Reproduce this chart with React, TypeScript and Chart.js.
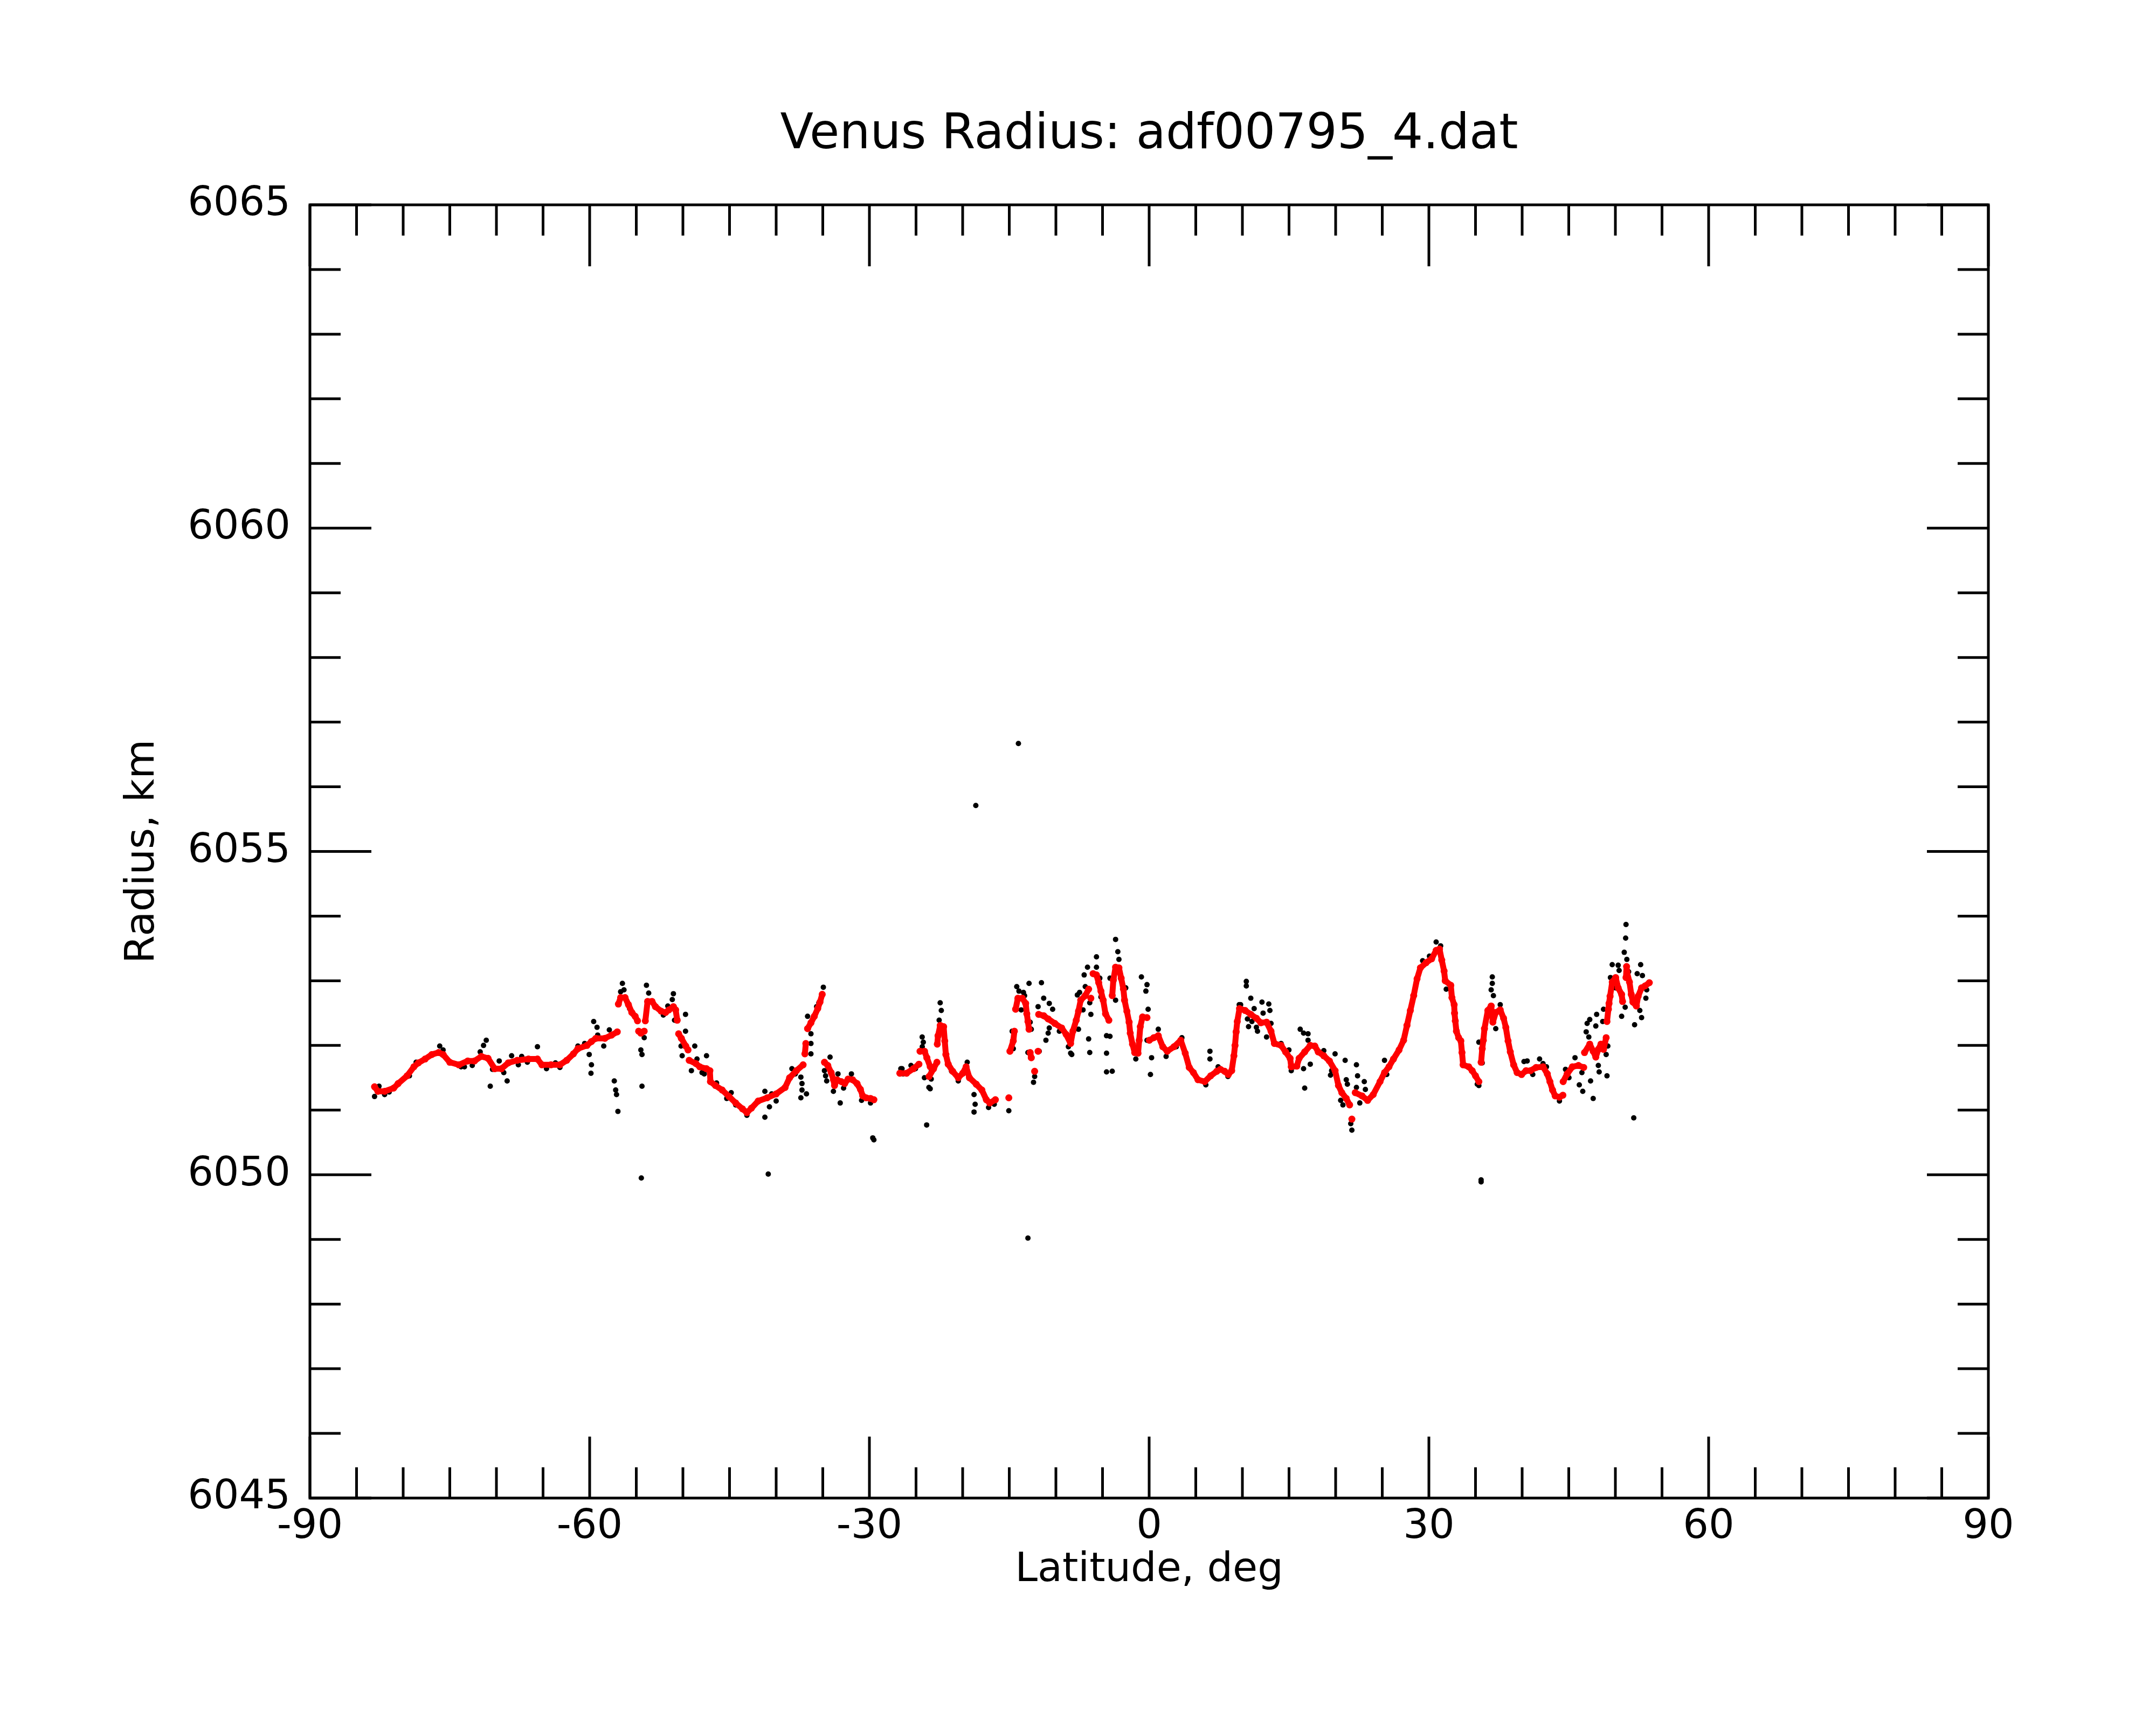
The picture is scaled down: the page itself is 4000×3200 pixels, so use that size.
import { useEffect, useRef } from "react";
import { Chart, registerables } from "chart.js";

Chart.register(...registerables);

// smoothed radius (red); null splits the trace where the reference shows a gap
const redLat = [
  -83.07, -82.71, -81.99, -81.02, -80.54, -79.58, -78.85, -78.37, -77.65, -76.92, -76.2, -75.72, -75.0, -74.03,
  -73.07, -72.35, -71.62, -70.9, -70.18, -69.46, -68.73, -67.77, -66.56, -65.6, -65.12, -64.15, -63.19, -62.46,
  -61.74, -61.26, -60.29, -59.81, -59.33, -58.37, -57.65, -57.04, null,
  -56.92, -56.68, -56.2, -55.84, -55.48, -55.12, -54.87, null,
  -54.75, -54.51, -54.15, null,
  -54.03, -53.79, -53.31, -52.95, -52.34, -51.86, -51.5, -51.02, -50.78, -50.61, null,
  -50.46, -50.17, -49.69, -49.45, null,
  -49.33, -48.61, -48.2, -47.47, -47.11, -47.05, -46.51, -45.79, -45.06, -44.34, -43.62, -43.14, -42.65, -41.93,
  -40.96, -40.0, -39.04, -38.56, -37.83, -37.11, null,
  -36.92, -36.82, null,
  -36.63, -36.27, -35.91, -35.54, -35.3, -35.06, null,
  -34.82, -34.46, -34.1, -33.86, -33.74, -33.49, -33.01, -32.65, -32.29, -31.81, -31.33, -30.96, -30.72, -30.36,
  -29.88, -29.52, null,
  -26.74, -26.01, -25.29, -24.69, null,
  -24.57, -24.09, -23.84, -23.48, null,
  -23.6, -23.12, -22.76, null,
  -22.72, -22.64, -22.4, -22.04, -21.92, -21.8, -21.55, -21.07, -20.47, -19.99, -19.63, -19.27, -18.54, -17.94,
  -17.46, -17.1, -16.49, null,
  -15.05, null,
  -14.93, -14.57, -14.45, null,
  -14.32, -14.08, -13.6, -13.24, -13.12, -13.0, -12.88, null,
  -12.76, -12.64, null,
  -12.28, null,
  -11.91, null,
  -11.85, -11.31, -10.83, -10.11, -9.38, -8.9, -8.42, -8.18, -7.82, -7.58, -7.34, -6.85, -6.49, null,
  -6.25, null,
  -6.01, -5.65, -5.41, -5.17, -4.93, -4.68, -4.32, null,
  -3.96, -3.84, -3.6, -3.24, -3.0, -2.76, -2.64, -2.39, -2.15, -2.03, -1.79, -1.55, -1.19, -1.07, -0.95, -0.71,
  -0.23, null,
  0.02, 0.5, 0.98, 1.46, 1.94, 2.67, 3.39, 3.87, 4.3, 4.75, 5.23, 5.96, 6.6, 7.25, 7.64, 8.1, 8.49, 8.85, 9.09,
  9.21, 9.33, 9.45, 9.69, 10.3, 10.9, 11.5, 11.98, 12.59, 13.07, 13.43, 14.15, 14.63, 15.12, 15.24, 15.84, 16.08,
  16.68, 17.28, 17.77, 18.13, 18.73, 19.33, 19.94, 20.3, 20.66, 21.14, 21.5, null,
  21.74, null,
  22.1, 22.83, 23.43, 24.03, 24.76, 25.24, 25.72, 26.2, 26.8, 27.29, 27.65, 28.01, 28.37, 28.73, 29.09, 29.7,
  30.3, 30.78, 31.14, 31.38, 31.63, 31.75, 32.35, 32.47, 32.71, 32.75, 32.83, 32.95, 33.19, 33.43, 33.55, 33.67,
  34.27, 34.64, 35.0, 35.36, null,
  35.6, 35.72, 35.84, 35.96, 36.32, 36.68, 36.86, 37.17, 37.65, 38.01, 38.25, 38.49, 38.73, 39.09, 39.46, 39.94,
  40.42, 40.9, 41.5, 42.24, 42.7, 42.98, 43.26, 43.54, 44.0, 44.37, null,
  44.4, 44.83, 45.39, 46.04, 46.6, null,
  46.69, 47.25, 47.62, 47.9, 48.17, 48.45, 48.73, 49.01, null,
  49.1, 49.25, 49.32, 49.43, 49.66, 50.03, 50.3, 50.67, 50.77, null,
  51.14, 51.2, 51.23, 51.51, 51.7, 51.88, 52.25, 52.44, 52.81, 53.18, 53.64,
];
const redRadius = [
  6051.36, 6051.29, 6051.29, 6051.34, 6051.41, 6051.53, 6051.67, 6051.73, 6051.79, 6051.86, 6051.89, 6051.86, 6051.74, 6051.7,
  6051.76, 6051.76, 6051.83, 6051.8, 6051.64, 6051.64, 6051.73, 6051.77, 6051.79, 6051.79, 6051.7, 6051.7, 6051.7, 6051.77,
  6051.87, 6051.95, 6052.0, 6052.06, 6052.11, 6052.11, 6052.16, 6052.21, null,
  6052.64, 6052.74, 6052.74, 6052.63, 6052.51, 6052.45, 6052.38, null,
  6052.22, 6052.19, 6052.22, null,
  6052.38, 6052.68, 6052.68, 6052.6, 6052.53, 6052.51, 6052.55, 6052.6, 6052.55, 6052.39, null,
  6052.18, 6052.11, 6051.99, 6051.93, null,
  6051.77, 6051.72, 6051.67, 6051.64, 6051.61, 6051.44, 6051.38, 6051.31, 6051.21, 6051.11, 6051.02, 6050.96, 6051.03, 6051.14,
  6051.19, 6051.25, 6051.35, 6051.5, 6051.61, 6051.7, null,
  6051.87, 6052.03, null,
  6052.26, 6052.35, 6052.45, 6052.57, 6052.67, 6052.79, null,
  6051.74, 6051.69, 6051.58, 6051.47, 6051.38, 6051.47, 6051.44, 6051.41, 6051.48, 6051.47, 6051.41, 6051.32, 6051.22, 6051.19,
  6051.18, 6051.16, null,
  6051.57, 6051.57, 6051.64, 6051.71, null,
  6051.91, 6051.91, 6051.81, 6051.67, null,
  6051.52, 6051.64, 6051.74, null,
  6052.02, 6052.15, 6052.31, 6052.29, 6052.07, 6051.86, 6051.71, 6051.6, 6051.5, 6051.57, 6051.67, 6051.5, 6051.4, 6051.31,
  6051.16, 6051.11, 6051.16, null,
  6051.19, null,
  6051.91, 6052.07, 6052.22, null,
  6052.56, 6052.73, 6052.73, 6052.65, 6052.49, 6052.37, 6052.25, null,
  6051.89, 6051.81, null,
  6051.6, null,
  6051.91, null,
  6052.48, 6052.46, 6052.41, 6052.34, 6052.27, 6052.17, 6052.03, 6052.22, 6052.39, 6052.53, 6052.7, 6052.77, 6052.87, null,
  6052.73, null,
  6053.11, 6053.09, 6052.97, 6052.84, 6052.7, 6052.49, 6052.39, null,
  6052.77, 6053.01, 6053.21, 6053.2, 6053.04, 6052.87, 6052.7, 6052.53, 6052.36, 6052.19, 6052.02, 6051.89, 6051.88, 6052.08, 6052.29, 6052.44,
  6052.43, null,
  6052.08, 6052.12, 6052.15, 6051.98, 6051.91, 6051.98, 6052.08, 6051.88, 6051.66, 6051.58, 6051.47, 6051.44, 6051.53, 6051.6, 6051.63, 6051.6, 6051.55, 6051.61, 6051.84,
  6052.0, 6052.21, 6052.37, 6052.57, 6052.54, 6052.48, 6052.42, 6052.35, 6052.36, 6052.22, 6052.03, 6052.0, 6051.9, 6051.8, 6051.67, 6051.68, 6051.8,
  6051.9, 6052.0, 6051.99, 6051.9, 6051.84, 6051.76, 6051.61, 6051.38, 6051.27, 6051.18, 6051.08, null,
  6050.86, null,
  6051.27, 6051.22, 6051.15, 6051.24, 6051.44, 6051.58, 6051.67, 6051.79, 6051.93, 6052.08, 6052.31, 6052.54, 6052.77, 6053.03, 6053.2, 6053.28,
  6053.34, 6053.47, 6053.49, 6053.32, 6053.15, 6053.0, 6052.93, 6052.74, 6052.63, 6052.5, 6052.38, 6052.22, 6052.12, 6052.07, 6051.89, 6051.7,
  6051.67, 6051.61, 6051.53, 6051.44, null,
  6051.74, 6051.95, 6052.08, 6052.26, 6052.54, 6052.61, 6052.36, 6052.51, 6052.55, 6052.42, 6052.28, 6052.07, 6051.9, 6051.7, 6051.58, 6051.55,
  6051.61, 6051.61, 6051.66, 6051.67, 6051.56, 6051.44, 6051.31, 6051.22, 6051.2, 6051.23, null,
  6051.44, 6051.56, 6051.67, 6051.69, 6051.66, null,
  6051.89, 6052.02, 6051.91, 6051.82, 6051.94, 6052.02, 6051.94, 6052.12, null,
  6052.37, 6052.56, 6052.65, 6052.76, 6052.98, 6053.05, 6052.89, 6052.79, 6052.68, null,
  6053.05, 6053.22, 6053.14, 6052.98, 6052.79, 6052.67, 6052.61, 6052.76, 6052.89, 6052.92, 6052.97,
];

// raw radius samples (black) that show around / away from the smoothed trace
const blackLat = [
  -83.07, -82.59, -81.99, -81.5, -79.33, -78.61, -76.08, -75.72, -73.79, -73.43, -72.59, -71.74, -71.38, -71.09,
  -70.66, -70.42, -69.7, -69.21, -68.85, -68.37, -67.65, -67.29, -66.68, -65.6, -64.63, -63.67, -63.19, -61.26,
  -60.54, -60.05, -59.81, -59.86, -59.57, -59.21, -59.14, -58.49, -57.89, -57.36, -57.21, -57.12, -56.97, -56.68,
  -56.49, -56.32, -55.72, -55.36, -54.51, -54.39, -54.39, -54.46, -54.15, -53.91, -53.67, -52.1, -51.62, -51.14,
  -51.02, -50.9, -49.72, -49.72, -50.2, -50.08, -48.73, -48.49, -49.09, -47.47, -47.95, -47.71, -46.39, -45.3,
  -44.82, -44.34, -43.14, -41.21, -41.21, -40.85, -40.72, -40.48, -40.0, -38.31, -37.95, -37.35, -37.23, -37.23,
  -37.35, -36.75, -36.63, -36.27, -36.27, -36.27, -35.66, -35.42, -34.94, -34.82, -34.7, -34.58, -34.22, -33.86,
  -33.37, -33.13, -32.77, -31.93, -30.84, -29.88, -29.64, -29.52, -26.63, -26.39, -25.54, -25.06, -24.34, -24.22,
  -24.1, -23.86, -23.62, -23.37, -22.41, -22.29, -26.5, -25.29, -24.33, -23.48, -23.36, -22.52, -21.19, -20.47,
  -19.51, -18.78, -18.66, -18.78, -17.22, -16.61, -15.05, -13.0, -14.69, -14.57, -14.2, -13.96, -13.48, -13.36,
  -13.72, -12.88, -12.76, -12.64, -13.0, -12.28, -12.4, -11.91, -11.79, -11.55, -11.31, -10.71, -11.07, -10.83,
  -10.71, -10.35, -9.63, -8.66, -8.42, -8.3, -7.58, -7.7, -7.46, -6.97, -6.61, -7.09, -6.85, -6.37,
  -6.25, -6.49, -6.37, -5.65, -5.65, -5.29, -5.17, -4.57, -4.2, -4.57, -4.57, -3.96, -4.2, -3.6,
  -3.36, -3.24, -3.6, -2.51, -1.43, -0.83, -0.23, -0.35, -0.11, -0.23, 0.26, 0.14, 0.98, 1.82,
  2.91, 3.51, 6.52, 6.52, 8.45, 9.66, -18.59, -14.02, 6.08, 7.4, 10.42, 10.42, 9.81, 10.9,
  10.54, 10.66, 11.02, 11.26, 11.5, 11.62, 12.1, 12.22, 12.59, 12.83, 12.95, 13.07, 14.15, 14.99,
  15.24, 16.2, 16.56, 17.04, 17.04, 16.56, 17.28, 16.68, 18.73, 19.94, 19.57, 19.45, 21.02, 21.14,
  21.26, 20.54, 20.78, 21.62, 21.74, 22.23, 22.35, 22.23, 23.07, 23.19, 22.59, 25.24, 25.48, 29.33,
  30.06, 30.78, 31.26, 31.86, 35.36, 35.6, 35.6, 35.36, 35.72, 36.8, 36.8, 36.68, 36.92, 37.17,
  37.65, 40.54, 41.14, 41.87, 39.83, 40.2, 42.24, 42.61, 35.19, 44.0, 44.65, 45.02, 45.67, 46.13,
  46.5, 46.41, 46.97, 47.25, 46.87, 47.15, 47.34, 47.62, 47.99, 47.9, 48.17, 48.26, 48.64, 48.73,
  49.1, 49.19, 49.01, 49.66, 49.47, 50.3, 50.4, 50.03, 50.67, 51.05, 50.95, 51.1, 51.14, 51.23,
  51.42, 51.97, 52.06, 52.62, 52.81, 52.71, 52.9, 52.34, 53.27, 53.36,
];
const blackRadius = [
  6051.21, 6051.37, 6051.24, 6051.28, 6051.53, 6051.74, 6051.99, 6051.93, 6051.67, 6051.67, 6051.69, 6051.9, 6052.0, 6052.08,
  6051.37, 6051.63, 6051.76, 6051.58, 6051.45, 6051.84, 6051.7, 6051.83, 6051.74, 6051.98, 6051.64, 6051.73, 6051.66, 6051.99,
  6052.03, 6051.86, 6051.7, 6051.57, 6052.37, 6052.28, 6052.16, 6051.99, 6052.24, 6051.45, 6051.31, 6051.24, 6050.98, 6052.83,
  6052.96, 6052.86, 6052.57, 6052.48, 6051.93, 6051.86, 6051.37, 6049.95, 6052.12, 6052.93, 6052.81, 6052.47, 6052.61, 6052.71,
  6052.8, 6052.39, 6052.48, 6052.22, 6051.99, 6051.84, 6051.99, 6051.79, 6051.61, 6051.84, 6051.58, 6051.56, 6051.42, 6051.18,
  6051.27, 6051.08, 6050.92, 6051.29, 6050.89, 6050.01, 6051.05, 6051.25, 6051.14, 6051.64, 6051.56, 6051.51, 6051.41, 6051.31,
  6051.19, 6051.25, 6052.45, 6052.18, 6052.03, 6051.87, 6052.6, 6052.66, 6052.9, 6051.61, 6051.53, 6051.45, 6051.82, 6051.29,
  6051.56, 6051.11, 6051.34, 6051.56, 6051.15, 6051.11, 6050.57, 6050.54, 6051.64, 6051.56, 6051.69, 6051.64, 6052.13, 6052.05,
  6051.5, 6050.77, 6051.35, 6051.48, 6052.66, 6052.54, 6051.64, 6051.66, 6051.98, 6051.33, 6051.6, 6052.39, 6051.6, 6051.45,
  6051.74, 6051.24, 6051.09, 6050.97, 6051.04, 6051.09, 6050.99, 6049.02, 6052.22, 6051.95, 6052.91, 6052.84, 6052.82, 6052.77,
  6052.55, 6052.96, 6052.36, 6052.25, 6051.89, 6051.52, 6051.43, 6052.6, 6051.91, 6052.97, 6052.73, 6052.65, 6052.08, 6052.19,
  6052.27, 6052.56, 6052.22, 6051.98, 6051.88, 6051.86, 6052.25, 6052.78, 6052.82, 6053.09, 6053.21, 6052.55, 6052.91, 6052.66,
  6052.48, 6052.1, 6051.89, 6053.37, 6053.21, 6053.04, 6052.75, 6052.15, 6052.14, 6051.88, 6051.59, 6051.6, 6053.04, 6053.64,
  6053.45, 6053.33, 6052.7, 6052.89, 6051.79, 6053.06, 6052.94, 6052.84, 6052.56, 6052.08, 6051.81, 6051.55, 6052.25, 6051.83,
  6051.98, 6052.12, 6051.91, 6051.79, 6051.52, 6052.63, 6055.71, 6056.67, 6051.39, 6051.67, 6052.99, 6052.92, 6052.63, 6052.73,
  6052.41, 6052.29, 6052.37, 6052.57, 6052.28, 6052.22, 6052.67, 6052.5, 6052.13, 6052.64, 6052.54, 6052.34, 6052.03, 6051.93,
  6051.61, 6052.25, 6052.19, 6052.18, 6052.08, 6051.64, 6051.71, 6051.34, 6051.92, 6051.87, 6051.61, 6051.54, 6051.77, 6051.47,
  6051.4, 6051.15, 6051.08, 6050.79, 6050.69, 6051.7, 6051.53, 6051.35, 6051.44, 6051.32, 6051.11, 6051.77, 6051.55, 6053.31,
  6053.38, 6053.6, 6053.54, 6052.87, 6051.38, 6049.92, 6049.89, 6052.05, 6051.73, 6053.06, 6052.96, 6052.86, 6052.77, 6052.26,
  6052.63, 6051.76, 6051.55, 6051.79, 6051.55, 6051.75, 6051.72, 6051.67, 6051.4, 6051.14, 6051.63, 6051.5, 6051.81, 6051.39,
  6051.29, 6051.58, 6052.34, 6052.4, 6052.21, 6052.13, 6051.45, 6051.18, 6052.48, 6052.3, 6051.69, 6051.59, 6052.37, 6052.56,
  6051.53, 6051.99, 6051.86, 6053.25, 6053.05, 6053.24, 6053.16, 6052.89, 6052.45, 6052.59, 6053.44, 6053.66, 6053.87, 6053.33,
  6053.14, 6050.88, 6052.32, 6052.54, 6052.43, 6053.25, 6053.08, 6053.11, 6052.73, 6052.86,
];

const xLabels = [-90, -60, -30, 0, 30, 60, 90];
const xMinor = [-85, -80, -75, -70, -65, -55, -50, -45, -40, -35, -25, -20, -15, -10, -5, 5, 10, 15, 20, 25, 35, 40, 45, 50, 55, 65, 70, 75, 80, 85];
const yLabels = [6045, 6050, 6055, 6060, 6065];
const yMinor = [6046, 6047, 6048, 6049, 6051, 6052, 6053, 6054, 6056, 6057, 6058, 6059, 6061, 6062, 6063, 6064];

const TITLE = "Venus Radius: adf00795_4.dat";
const FONT = "DejaVu Sans";

// ticks point inward on all four sides, like the original plot
const inwardTicks = {
  id: "inwardTicks",
  afterDraw(chart: Chart) {
    const { ctx, chartArea } = chart;
    const { left, right, top, bottom } = chartArea;
    const x = chart.scales.x;
    const y = chart.scales.y;
    ctx.save();
    ctx.strokeStyle = "#000";
    ctx.lineWidth = 5;
    ctx.lineCap = "butt";
    const seg = (x1: number, y1: number, x2: number, y2: number) => {
      ctx.beginPath();
      ctx.moveTo(x1, y1);
      ctx.lineTo(x2, y2);
      ctx.stroke();
    };
    xLabels.forEach((v) => {
      const px = x.getPixelForValue(v);
      seg(px, bottom, px, bottom - 114);
      seg(px, top, px, top + 114);
    });
    xMinor.forEach((v) => {
      const px = x.getPixelForValue(v);
      seg(px, bottom, px, bottom - 57);
      seg(px, top, px, top + 57);
    });
    yLabels.forEach((v) => {
      const py = y.getPixelForValue(v);
      seg(left, py, left + 114, py);
      seg(right, py, right - 114, py);
    });
    yMinor.forEach((v) => {
      const py = y.getPixelForValue(v);
      seg(left, py, left + 57, py);
      seg(right, py, right - 57, py);
    });
    ctx.strokeRect(left, top, right - left, bottom - top);

    // title centred over the plot frame
    ctx.fillStyle = "#000";
    ctx.font = `90px "${FONT}"`;
    ctx.textAlign = "center";
    ctx.textBaseline = "middle";
    ctx.fillText(TITLE, (left + right) / 2, 252);
    ctx.restore();
  },
};

export default function App() {
  const canvasRef = useRef<HTMLCanvasElement>(null);
  const chartRef = useRef<Chart | null>(null);

  useEffect(() => {
    if (!canvasRef.current) return;
    if (chartRef.current) chartRef.current.destroy();

    const redPts = redLat.map((v, i) => ({ x: v, y: redRadius[i] }));
    const blackPts = blackLat.map((v, i) => ({ x: v, y: blackRadius[i] }));

    chartRef.current = new Chart(canvasRef.current, {
      type: "scatter",
      data: {
        datasets: [
          {
            label: "smoothed",
            data: redPts,
            showLine: true,
            spanGaps: false,
            borderColor: "#ff0000",
            borderWidth: 11,
            borderJoinStyle: "round",
            borderCapStyle: "round",
            pointRadius: 6.5,
            pointBackgroundColor: "#ff0000",
            pointBorderWidth: 0,
          },
          {
            label: "raw",
            data: blackPts,
            pointRadius: 5,
            pointBackgroundColor: "#000",
            pointBorderWidth: 0,
          },
        ],
      },
      options: {
        animation: false,
        responsive: false,
        devicePixelRatio: 1,
        layout: { padding: { left: 0, right: 311, top: 380, bottom: 0 } },
        plugins: {
          legend: { display: false },
          tooltip: { enabled: false },
          title: { display: false },
        },
        scales: {
          x: {
            type: "linear",
            min: -90,
            max: 90,
            afterBuildTicks: (s) => {
              s.ticks = xLabels.map((v) => ({ value: v }));
            },
            afterFit: (s) => {
              s.height = 421;
            },
            grid: { display: false, drawTicks: false },
            border: { display: false },
            ticks: {
              color: "#000",
              font: { family: FONT, size: 75, lineHeight: 1.2 },
              padding: 10,
              maxRotation: 0,
              autoSkip: false,
              callback: (v) => String(v),
            },
            title: {
              display: true,
              text: "Latitude, deg",
              color: "#000",
              font: { family: FONT, size: 75, lineHeight: 1.2 },
              padding: { top: 0, bottom: 241 },
            },
          },
          y: {
            type: "linear",
            min: 6045,
            max: 6065,
            afterBuildTicks: (s) => {
              s.ticks = yLabels.map((v) => ({ value: v }));
            },
            afterFit: (s) => {
              s.width = 575;
            },
            grid: { display: false, drawTicks: false },
            border: { display: false },
            ticks: {
              color: "#000",
              font: { family: FONT, size: 75, lineHeight: 1.2 },
              padding: 36,
              autoSkip: false,
              callback: (v) => String(v),
            },
            title: {
              display: true,
              text: "Radius, km",
              color: "#000",
              font: { family: FONT, size: 75, lineHeight: 1.2 },
              padding: { top: 221, bottom: 0 },
            },
          },
        },
      },
      plugins: [inwardTicks],
    });

    return () => {
      if (chartRef.current) {
        chartRef.current.destroy();
        chartRef.current = null;
      }
    };
  }, []);

  return (
    <div style={{ position: "absolute", left: 0, top: 0, width: 4000, height: 3200, background: "#fff" }}>
      <canvas ref={canvasRef} width={4000} height={3200} style={{ width: 4000, height: 3200 }} />
    </div>
  );
}
